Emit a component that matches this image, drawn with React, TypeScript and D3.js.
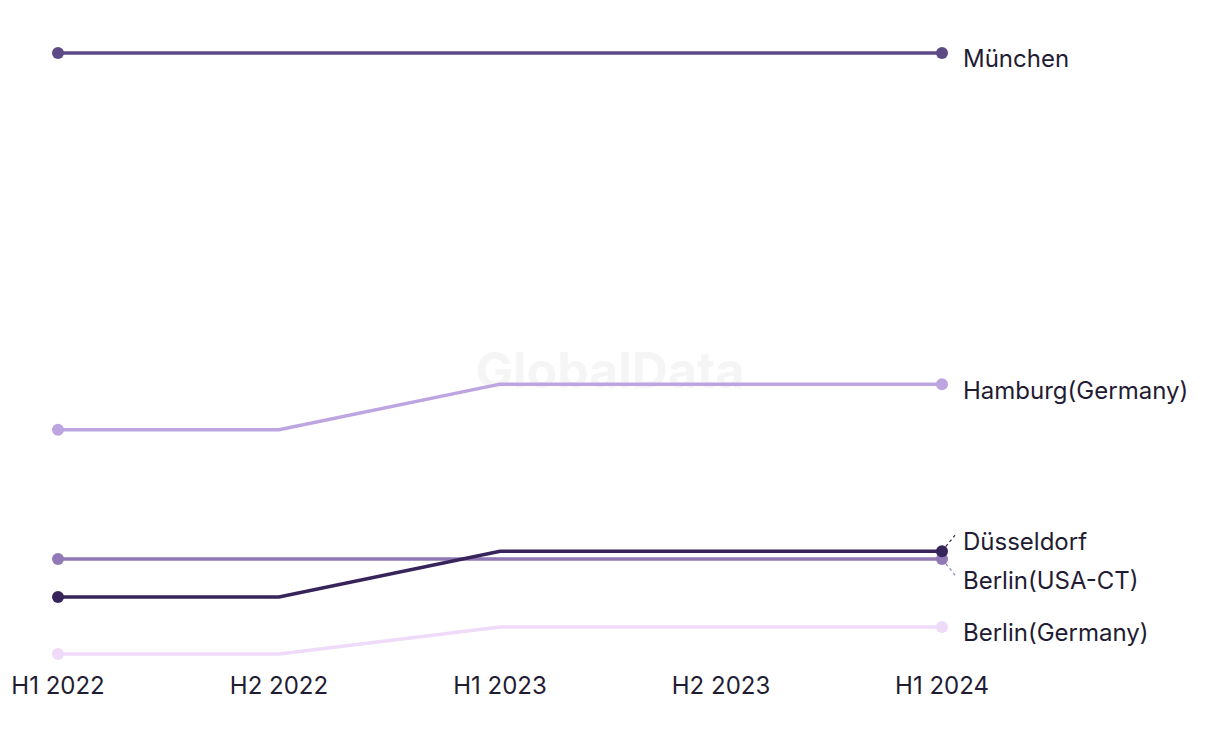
import React from "react";
import * as d3 from "d3";

const periods = ["H1 2022", "H2 2022", "H1 2023", "H2 2023", "H1 2024"];
const seriesNames = ["München", "Hamburg(Germany)", "Berlin(USA-CT)", "Düsseldorf", "Berlin(Germany)"];
const munchen = [100, 100, 100, 100, 100];
const hamburg = [37.3, 37.3, 44.9, 44.9, 44.9];
const berlinUsa = [15.8, 15.8, 15.8, 15.8, 15.8];
const duesseldorf = [9.5, 9.5, 17.1, 17.1, 17.1];
const berlinDe = [0, 0, 4.5, 4.5, 4.5];
const colors = ["#5d4a87", "#bca5e1", "#9179b5", "#36245a", "#f0dafa"];
// label nudges (px) for overlapping end labels
const labelNudges = [0, 0, 16, -16, 0];

export default function App() {
  const width = 1220;
  const height = 744;
  const x = d3.scalePoint<string>().domain(periods).range([58, 942]);
  const y = d3.scaleLinear().domain([0, 100]).range([654, 53]);
  const all = [munchen, hamburg, berlinUsa, duesseldorf, berlinDe];
  const line = d3
    .line<number>()
    .x((_, i) => x(periods[i]) as number)
    .y((d) => y(d));
  const font = "Inter, 'Noto Sans', sans-serif";
  const last = periods.length - 1;
  return (
    <svg width={width} height={height} style={{ position: "absolute", left: 0, top: 0 }}>
      <text x={610} y={388} textAnchor="middle" fontFamily={font} fontWeight={700} fontSize={50} fill="#f5f5f5">
        GlobalData
      </text>
      {all.map((vals, si) => (
        <g key={si}>
          <path d={line(vals) || ""} fill="none" stroke={colors[si]} strokeWidth={3.5} />
          <circle cx={x(periods[0])} cy={y(vals[0])} r={6} fill={colors[si]} />
          <circle cx={x(periods[last])} cy={y(vals[last])} r={6} fill={colors[si]} />
        </g>
      ))}
      {all.map((vals, si) => {
        const ex = x(periods[last]) as number;
        const ey = y(vals[last]);
        const off = labelNudges[si];
        const labelY = off === 0 ? ey + 6 : off < 0 ? ey - 10 : ey + 22;
        return (
          <g key={"l" + si}>
            {off !== 0 && (
              <line
                x1={ex}
                y1={ey}
                x2={ex + 13}
                y2={ey + off}
                stroke={colors[si]}
                strokeWidth={1.2}
                strokeDasharray="3,3"
              />
            )}
            <text x={963} y={labelY} dy="0.35em" fontFamily={font} fontSize={24} fill="#1f1c33">
              {seriesNames[si]}
            </text>
          </g>
        );
      })}
      {periods.map((p) => (
        <text key={p} x={x(p)} y={694} textAnchor="middle" fontFamily={font} fontSize={24} fill="#1f1c33">
          {p}
        </text>
      ))}
    </svg>
  );
}
